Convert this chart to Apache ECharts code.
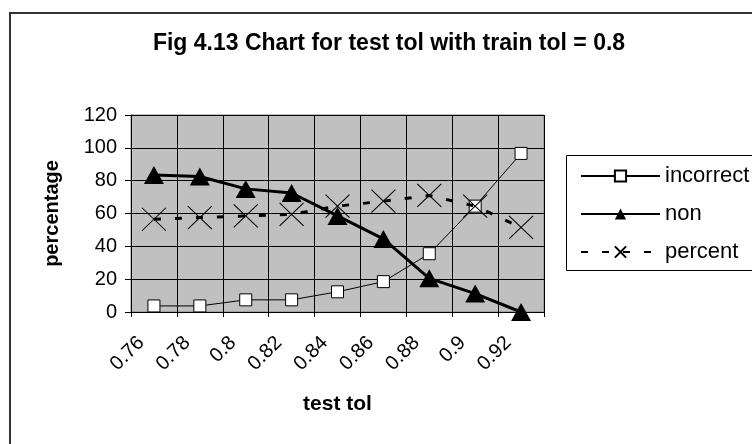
<!DOCTYPE html>
<html>
<head>
<meta charset="utf-8">
<script src="https://cdn.jsdelivr.net/npm/echarts@6/dist/echarts.min.js"></script>
<style>html,body{margin:0;padding:0;background:#fff}#c{width:752px;height:444px}</style>
</head>
<body>
<div id="c"></div>
<script>
var categories = ['0.76','0.78','0.8','0.82','0.84','0.86','0.88','0.9','0.92'];
var incorrect = [3.7, 3.7, 7.4, 7.4, 12.3, 18.5, 35.5, 64.5, 96.6];
var non = [83.5, 82.5, 75, 72.5, 58.5, 44.5, 20.5, 11.2, 0];
var percent = [56.5, 57.5, 58.5, 59.5, 64.5, 67.5, 71, 64.5, 51.5];
var yTicks = [0, 20, 40, 60, 80, 100, 120];

var FONT = '"Liberation Sans", Arial, sans-serif';
var chart = echarts.init(document.getElementById('c'), null, {renderer: 'canvas'});
chart.setOption({
  animation: false,
  backgroundColor: '#fff',
  title: {
    text: 'Fig 4.13 Chart for test tol with train tol = 0.8',
    left: 384, top: 27, textAlign: 'center',
    textStyle: {fontFamily: FONT, fontWeight: 'bold', fontSize: 23, color: '#000'}
  },
  graphic: [
    {type: 'rect', shape: {x: 10, y: 13, width: 800, height: 500}, style: {fill: 'none', stroke: '#333', lineWidth: 2}, z: 100},
    {type: 'rect', shape: {x: 566.5, y: 155.5, width: 300, height: 115}, style: {fill: '#fff', stroke: '#000', lineWidth: 1}, z: -1}
  ],
  legend: {
    orient: 'vertical', left: 575, top: 160,
    itemWidth: 79, itemHeight: 14, itemGap: 16,
    textStyle: {fontFamily: FONT, fontSize: 22, color: '#000'},
    data: ['incorrect', 'non', 'percent']
  },
  grid: {
    left: 131, right: 208, top: 115, bottom: 132,
    show: true, backgroundColor: '#c0c0c0', borderColor: '#808080', borderWidth: 1
  },
  xAxis: {
    type: 'category', data: categories, boundaryGap: true,
    name: 'test tol', nameLocation: 'middle', nameGap: 82,
    nameTextStyle: {fontFamily: FONT, fontWeight: 'bold', fontSize: 21, color: '#000'},
    axisLine: {lineStyle: {color: '#000', width: 1}},
    axisTick: {show: true, length: 5, lineStyle: {color: '#000'}},
    axisLabel: {rotate: 45, fontFamily: FONT, fontSize: 20, color: '#000', margin: 15, padding: [0, 18, 0, 0]},
    splitLine: {show: true, lineStyle: {color: '#000', width: 1}}
  },
  yAxis: {
    type: 'value', min: 0, max: 120, interval: 20,
    name: 'percentage', nameLocation: 'middle', nameGap: 69, nameRotate: 90,
    nameTextStyle: {fontFamily: FONT, fontWeight: 'bold', fontSize: 20, color: '#000'},
    axisLine: {show: true, lineStyle: {color: '#000', width: 1}},
    axisTick: {show: true, length: 6, lineStyle: {color: '#000'}},
    axisLabel: {fontFamily: FONT, fontSize: 20, color: '#000', margin: 14,
      formatter: function (v) { return yTicks.indexOf(v) >= 0 ? String(v) : ''; }},
    splitLine: {show: true, lineStyle: {color: '#000', width: 1}}
  },
  series: [
    {
      name: 'incorrect', type: 'line', data: incorrect,
      symbol: 'rect', symbolSize: 12,
      lineStyle: {color: '#000', width: 1},
      itemStyle: {color: '#fff', borderColor: '#000', borderWidth: 1},
      z: 2
    },
    {
      name: 'percent', type: 'line', data: percent,
      symbol: 'path://M0,0L10,10M10,0L0,10', symbolSize: [24, 23],
      lineStyle: {color: '#000', width: 3, type: [7, 14]},
      itemStyle: {color: 'none', borderColor: '#000', borderWidth: 1},
      z: 3
    },
    {
      name: 'non', type: 'line', data: non,
      symbol: 'triangle', symbolSize: [20, 18],
      lineStyle: {color: '#000', width: 3},
      itemStyle: {color: '#000', borderColor: '#000', borderWidth: 0},
      z: 4
    }
  ]
});
</script>
</body>
</html>
